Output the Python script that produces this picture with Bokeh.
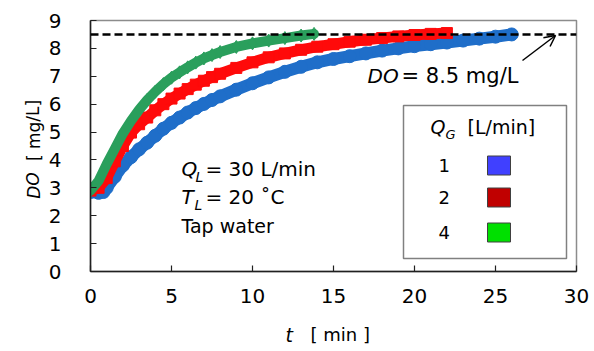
from bokeh.plotting import figure
from bokeh.models import Label, Span, Arrow, OpenHead, Range1d, FixedTicker
from bokeh.embed import file_html
from bokeh.resources import INLINE

# ---------------- data ----------------
t_q1 = [0, 0.5, 0.8, 1.0, 1.5, 2.0, 2.5, 3.0, 3.5, 4.0, 4.5, 5, 5.5, 6, 6.5, 7, 7.5, 8,
        9, 10, 11, 12, 13, 14, 15, 16, 17, 18, 19, 20, 21, 22, 23, 24, 25, 26]
do_q1 = [2.85, 2.82, 2.85, 3.0, 3.4, 3.8, 4.1, 4.38, 4.62, 4.87, 5.12, 5.33, 5.52, 5.7,
         5.86, 6.01, 6.15, 6.28, 6.52, 6.75, 6.96, 7.16, 7.34, 7.5, 7.62, 7.72, 7.82,
         7.92, 8.0, 8.08, 8.15, 8.21, 8.28, 8.35, 8.42, 8.5]

t_q2 = [0, 0.5, 1.0, 1.5, 2.0, 2.5, 3.0, 3.5, 4.0, 4.5, 5, 5.5, 6, 6.5, 7, 7.5, 8, 9, 10,
        11, 12, 13, 14, 15, 16, 17, 18, 19, 20, 21, 22]
do_q2 = [2.9, 3.0, 3.35, 3.95, 4.5, 4.98, 5.28, 5.52, 5.78, 6.0, 6.2, 6.38, 6.54, 6.7,
         6.84, 6.97, 7.09, 7.3, 7.5, 7.68, 7.82, 7.95, 8.06, 8.15, 8.24, 8.31, 8.37, 8.43,
         8.48, 8.52, 8.55]

t_q4 = [0, 0.5, 1.0, 1.5, 2.0, 2.5, 3.0, 3.5, 4.0, 4.5, 5, 5.5, 6, 6.5, 7, 7.5, 8, 9, 10,
        11, 12, 13, 13.8]
do_q4 = [2.9, 3.25, 3.85, 4.4, 4.95, 5.4, 5.8, 6.15, 6.45, 6.72, 6.95, 7.14, 7.32, 7.49,
         7.64, 7.76, 7.87, 8.05, 8.18, 8.28, 8.37, 8.46, 8.52]

qg_labels = ["1", "2", "4"]
saturation_do = 8.5
x_ticks = [0, 5, 10, 15, 20, 25, 30]
y_ticks = [0, 1, 2, 3, 4, 5, 6, 7, 8, 9]

# ---------------- figure ----------------
W, H = 594, 351
FL, FR, FT, FB = 90, 18, 20, 80
XMAX, YMAX = 30, 9
fw = W - FL - FR
fh = H - FT - FB

p = figure(width=W, height=H, output_backend="svg", toolbar_location=None,
           x_range=Range1d(0, XMAX), y_range=Range1d(0, YMAX),
           min_border_left=FL, min_border_right=FR, min_border_top=FT,
           min_border_bottom=FB)
p.grid.visible = False
p.background_fill_color = "white"
p.border_fill_color = "white"
p.outline_line_color = "#8c8c8c"
p.outline_line_width = 1.5

FONT = "DejaVu Sans"
for ax in (p.xaxis[0], p.yaxis[0]):
    ax.axis_line_color = "#202020"
    ax.axis_line_width = 1.5
    ax.major_tick_in = 6
    ax.major_tick_out = 0
    ax.minor_tick_in = 0
    ax.minor_tick_out = 0
    ax.major_tick_line_color = "#202020"
    ax.major_tick_line_width = 1.2
    ax.major_label_text_font = FONT
    ax.major_label_text_font_size = "20px"
    ax.major_label_text_color = "black"
p.xaxis[0].ticker = FixedTicker(ticks=x_ticks)
p.yaxis[0].ticker = FixedTicker(ticks=y_ticks)
p.xaxis[0].major_label_standoff = 17
p.yaxis[0].major_label_standoff = 29


# page pixel -> data coordinate helpers
def dx(px):
    return (px - FL) * XMAX / fw


def dy(py):
    return (H - FB - py) * YMAX / fh


# ---------------- curves ----------------
blue, red, green = "#1f6ec9", "#ff0a0a", "#2a9f5c"
p.line(t_q1, do_q1, line_color=blue, line_width=12, line_cap="round", line_join="round")
p.scatter(t_q1, do_q1, marker="circle", size=13, fill_color=blue, line_color=blue)
p.line(t_q2, do_q2, line_color=red, line_width=11, line_join="round")
p.scatter(t_q2, do_q2, marker="square", size=11, fill_color=red, line_color=red)
p.line(t_q4, do_q4, line_color=green, line_width=10, line_cap="round", line_join="round")
p.scatter(t_q4, do_q4, marker="diamond", size=13, fill_color=green, line_color=green)

p.add_layout(Span(location=saturation_do, dimension="width", line_color="black",
                  line_width=2.5, line_dash="8 4"))
p.add_layout(Arrow(end=OpenHead(size=11, line_width=1.5, line_color="black"),
                   x_start=dx(522), y_start=dy(60), x_end=dx(555), y_end=dy(35),
                   line_width=1.5, line_color="black"))


def lab(px, py, text, size, italic=False, font=FONT, align="left", angle=0.0,
        baseline="middle", place=None):
    lb = Label(x=dx(px), y=dy(py), text=text, text_font=font,
               text_font_size=f"{size}px",
               text_font_style="italic" if italic else "normal",
               text_align=align, text_baseline=baseline, angle=angle,
               text_color="black")
    if place is None:
        p.add_layout(lb)
    else:
        p.add_layout(lb, place)


# DO = 8.5 mg/L
lab(367, 75, "DO", 20, italic=True)
lab(401, 75, "= 8.5 mg/L", 21)

# conditions
lab(181, 168, "Q", 20, italic=True)
lab(195, 176, "L", 14, italic=True)
lab(205, 168, "= 30 L/min", 20)
lab(181, 196, "T", 20, italic=True)
lab(194, 204, "L", 14, italic=True)
lab(205, 196, "= 20 ˚C", 20)
lab(181, 225, "Tap water", 19)

# axis titles (placed in side panels so they are not clipped to the frame)
lab(285, 334, "t", 19, italic=True, place="below")
lab(310, 334, "[ min ]", 18, place="below")
lab(33, 185, "DO", 17, italic=True, align="center", angle=1.5708, place="left")
lab(33, 130, "[ mg/L]", 17, align="center", angle=1.5708, place="left")

# ---------------- legend box ----------------
p.quad(left=[dx(403)], right=[dx(566)], top=[dy(105)], bottom=[dy(258)],
       fill_color="white", line_color="#808080", line_width=1.5)
lab(430, 126, "Q", 19, italic=True)
lab(445, 134, "G", 13, italic=True)
lab(467, 126, "[L/min]", 19)
sw_colors = ["#4040ff", "#c00000", "#00e000"]
sw_y = [165, 197, 232]
for name, col, yy in zip(qg_labels, sw_colors, sw_y):
    lab(438, yy, name, 18)
    p.quad(left=[dx(487)], right=[dx(510)], top=[dy(yy - 9.5)], bottom=[dy(yy + 9.5)],
           fill_color=col, line_color="#404040", line_width=1)

open("out.html", "w").write(file_html(p, INLINE))
